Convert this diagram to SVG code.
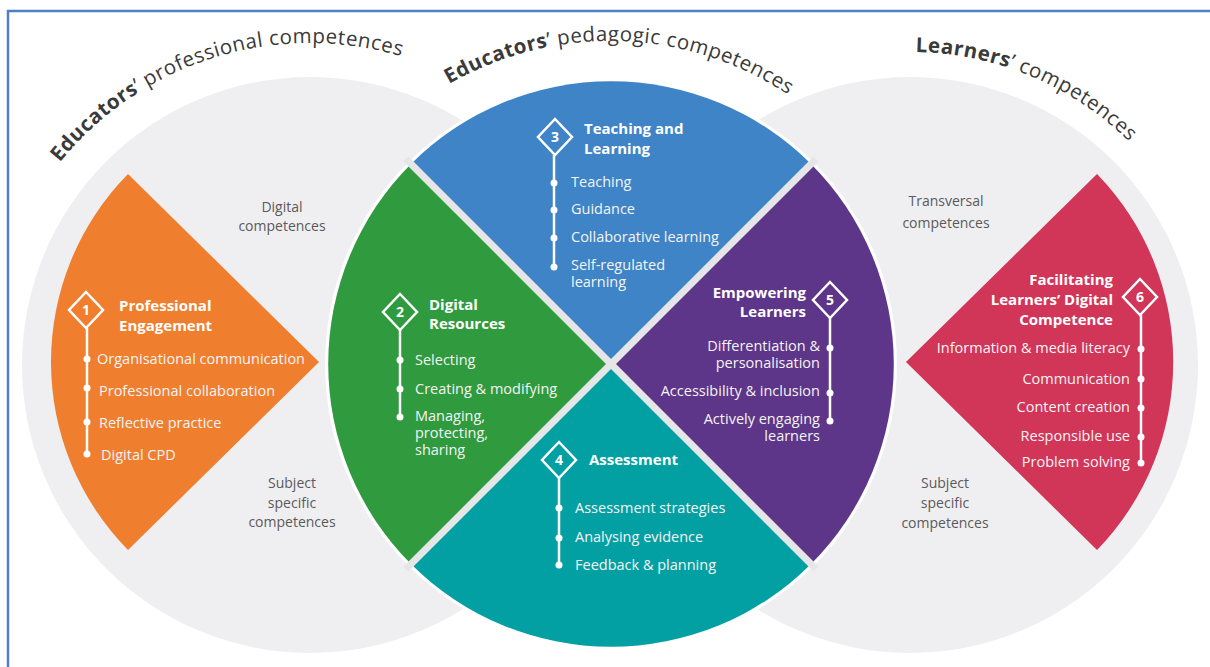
<svg xmlns="http://www.w3.org/2000/svg" xmlns:xlink="http://www.w3.org/1999/xlink" width="1210" height="667" viewBox="0 0 1210 667">
<style>
.arc{font-family:"Open Sans","Noto Sans",sans-serif;font-size:20.5px;fill:#3a3a3a;letter-spacing:0.5px}
.arc .b{font-weight:bold}
.gray{font-family:"Open Sans","Noto Sans",sans-serif;font-size:14px;fill:#5a5a5a;text-anchor:middle}
.t{font-family:"Open Sans","Noto Sans",sans-serif;font-size:15px;font-weight:bold;fill:#ffffff}
.i{font-family:"Open Sans","Noto Sans",sans-serif;font-size:14.5px;fill:#f4f4f4}
.r{text-anchor:end}
.num{font-family:"Open Sans","Noto Sans",sans-serif;font-size:14px;font-weight:bold;fill:#ffffff;text-anchor:middle}
.dia{fill:none;stroke:#ffffff;stroke-width:2.5;stroke-linejoin:miter}
.ln{stroke:#ffffff;stroke-width:2.5}
.dot{fill:#ffffff}
</style>
<defs>
<path id="diamond" d="M0,-18 L17,0 L0,18 L-17,0 Z"/>
<path id="p1" d="M59.8,162.4 A322,322 0 0 1 430.7,66.5"/>
<path id="p2" d="M449,84.1 A322,322 0 0 1 794.8,99.3"/>
<path id="p3" d="M915.5,52 A313,313 0 0 1 1149.8,163.8"/>
</defs>
<rect x="8" y="11" width="1215" height="700" fill="#ffffff" stroke="#4f7fc4" stroke-width="2.5"/>

<g id="background-circles">
<circle cx="310" cy="365" r="288" fill="#efeff1"/>
<circle cx="910" cy="365" r="288" fill="#efeff1"/>
</g>

<g id="titles">
<text class="arc"><textPath href="#p1" xlink:href="#p1"><tspan class="b">Educators</tspan>’ professional competences</textPath></text>
<text class="arc"><textPath href="#p2" xlink:href="#p2"><tspan class="b">Educators</tspan>’ pedagogic competences</textPath></text>
<text class="arc"><textPath href="#p3" xlink:href="#p3"><tspan class="b">Learners</tspan>’ competences</textPath></text>
</g>

<g id="gray-labels">
<text class="gray" x="282" y="212">Digital</text>
<text class="gray" x="282" y="231">competences</text>
<text class="gray" x="292" y="488">Subject</text>
<text class="gray" x="292" y="508">specific</text>
<text class="gray" x="292" y="527">competences</text>
<text class="gray" x="946" y="206">Transversal</text>
<text class="gray" x="946" y="228">competences</text>
<text class="gray" x="945" y="488">Subject</text>
<text class="gray" x="945" y="508">specific</text>
<text class="gray" x="945" y="528">competences</text>
</g>

<g id="central-circle">
<circle cx="611" cy="364" r="286" fill="#ffffff"/>
</g>

<g id="node1">
<path d="M319,362 L128,174 A268,268 0 0 0 128,550 Z" fill="#ef7e2e"/>
<use href="#diamond" xlink:href="#diamond" class="dia" x="86" y="310"/>
<text class="num" x="86" y="315">1</text>
<line class="ln" x1="87" y1="328" x2="87" y2="454"/>
<circle class="dot" cx="87" cy="359" r="3.5"/>
<circle class="dot" cx="87" cy="388" r="3.5"/>
<circle class="dot" cx="87" cy="422" r="3.5"/>
<circle class="dot" cx="87" cy="454" r="3.5"/>
<text class="t" x="119" y="311">Professional</text>
<text class="t" x="119" y="331">Engagement</text>
<text class="i" x="97" y="364">Organisational communication</text>
<text class="i" x="99" y="396">Professional collaboration</text>
<text class="i" x="99" y="428">Reflective practice</text>
<text class="i" x="101" y="460">Digital CPD</text>
</g>

<g id="node2">
<path d="M611,364 L411,564 A283,283 0 0 1 411,164 Z" fill="#2f9a3e"/>
<use href="#diamond" xlink:href="#diamond" class="dia" x="400" y="312"/>
<text class="num" x="400" y="317">2</text>
<line class="ln" x1="400" y1="330" x2="400" y2="417"/>
<circle class="dot" cx="400" cy="360" r="3.5"/>
<circle class="dot" cx="400" cy="389" r="3.5"/>
<circle class="dot" cx="400" cy="417" r="3.5"/>
<text class="t" x="429" y="310">Digital</text>
<text class="t" x="429" y="329">Resources</text>
<text class="i" x="415" y="365">Selecting</text>
<text class="i" x="415" y="394">Creating &amp; modifying</text>
<text class="i" x="415" y="421">Managing,</text>
<text class="i" x="415" y="438">protecting,</text>
<text class="i" x="415" y="455">sharing</text>
</g>

<g id="node3">
<path d="M611,364 L411,164 A283,283 0 0 1 811,164 Z" fill="#3f84c7"/>
<use href="#diamond" xlink:href="#diamond" class="dia" x="555" y="137"/>
<text class="num" x="555" y="142">3</text>
<line class="ln" x1="554" y1="155" x2="554" y2="267"/>
<circle class="dot" cx="554" cy="183" r="3.5"/>
<circle class="dot" cx="554" cy="210" r="3.5"/>
<circle class="dot" cx="554" cy="238" r="3.5"/>
<circle class="dot" cx="554" cy="267" r="3.5"/>
<text class="t" x="584" y="134">Teaching and</text>
<text class="t" x="584" y="154">Learning</text>
<text class="i" x="571" y="187">Teaching</text>
<text class="i" x="571" y="214">Guidance</text>
<text class="i" x="571" y="242">Collaborative learning</text>
<text class="i" x="571" y="270">Self-regulated</text>
<text class="i" x="571" y="287">learning</text>
</g>

<g id="node4">
<path d="M611,364 L811,564 A283,283 0 0 1 411,564 Z" fill="#03a0a3"/>
<use href="#diamond" xlink:href="#diamond" class="dia" x="559" y="460"/>
<text class="num" x="559" y="465">4</text>
<line class="ln" x1="559" y1="478" x2="559" y2="565"/>
<circle class="dot" cx="559" cy="508" r="3.5"/>
<circle class="dot" cx="559" cy="538" r="3.5"/>
<circle class="dot" cx="559" cy="565" r="3.5"/>
<text class="t" x="589" y="465">Assessment</text>
<text class="i" x="575" y="513">Assessment strategies</text>
<text class="i" x="575" y="542">Analysing evidence</text>
<text class="i" x="575" y="570">Feedback &amp; planning</text>
</g>

<g id="node5">
<path d="M611,364 L811,164 A283,283 0 0 1 811,564 Z" fill="#5d3589"/>
<use href="#diamond" xlink:href="#diamond" class="dia" x="830" y="300"/>
<text class="num" x="830" y="305">5</text>
<line class="ln" x1="830" y1="318" x2="830" y2="421"/>
<circle class="dot" cx="830" cy="348" r="3.5"/>
<circle class="dot" cx="830" cy="393" r="3.5"/>
<circle class="dot" cx="830" cy="421" r="3.5"/>
<text class="t r" x="806" y="298">Empowering</text>
<text class="t r" x="806" y="317">Learners</text>
<text class="i r" x="820" y="351">Differentiation &amp;</text>
<text class="i r" x="820" y="368">personalisation</text>
<text class="i r" x="820" y="396">Accessibility &amp; inclusion</text>
<text class="i r" x="820" y="424">Actively engaging</text>
<text class="i r" x="820" y="441">learners</text>
</g>

<g id="connectors">
<line x1="406" y1="159" x2="816" y2="569" stroke="#e6e6e8" stroke-width="7"/>
<line x1="816" y1="159" x2="406" y2="569" stroke="#e6e6e8" stroke-width="7"/>
</g>

<g id="node6">
<path d="M906,362 L1097,174 A270,270 0 0 1 1097,550 Z" fill="#d13558"/>
<use href="#diamond" xlink:href="#diamond" class="dia" x="1140" y="297"/>
<text class="num" x="1140" y="302">6</text>
<line class="ln" x1="1141" y1="315" x2="1141" y2="463"/>
<circle class="dot" cx="1141" cy="349" r="3.5"/>
<circle class="dot" cx="1141" cy="379" r="3.5"/>
<circle class="dot" cx="1141" cy="408" r="3.5"/>
<circle class="dot" cx="1141" cy="437" r="3.5"/>
<circle class="dot" cx="1141" cy="463" r="3.5"/>
<text class="t r" x="1113" y="285">Facilitating</text>
<text class="t r" x="1113" y="305">Learners’ Digital</text>
<text class="t r" x="1113" y="325">Competence</text>
<text class="i r" x="1130" y="353">Information &amp; media literacy</text>
<text class="i r" x="1130" y="384">Communication</text>
<text class="i r" x="1130" y="412">Content creation</text>
<text class="i r" x="1130" y="441">Responsible use</text>
<text class="i r" x="1130" y="467">Problem solving</text>
</g>
</svg>
